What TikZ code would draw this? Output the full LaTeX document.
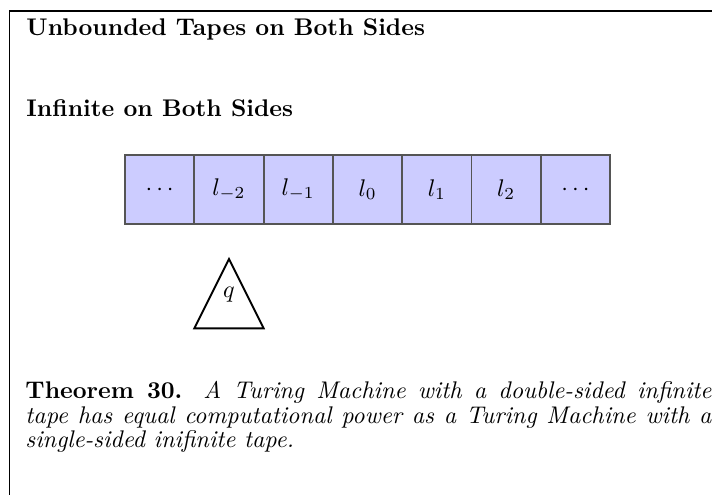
\documentclass[tikz,border=0pt]{standalone}
\usetikzlibrary{positioning}
\definecolor{cellfill}{HTML}{CCCCFF}
\definecolor{celldraw}{HTML}{555555}

\begin{document}
\begin{tikzpicture}[
    x=0.415pt, y=-0.415pt,
    every node/.style={font=\fontsize{10}{10.1}\selectfont},
    cell/.style={rectangle, fill=cellfill, draw=celldraw, line width=0.8pt,
                 minimum size=28.76pt, inner sep=0pt, outer sep=0pt},
  ]

  % Page
  \useasboundingbox (0,0) rectangle (712,495);
  \draw[line width=0.6pt] (712,11) -- (9.3,11) -- (9.3,495);

  % Headings
  \node[anchor=base west, inner sep=0pt, font=\bfseries] (title) at (26,35.7)
    {Unbounded Tapes on Both Sides};
  \node[anchor=base west, inner sep=0pt, font=\bfseries] (subtitle) at (26,116.7)
    {Infinite on Both Sides};

  % Tape
  \node[cell] (c1) at (159.65,189.7) {$\cdots$};
  \node[cell, right=0pt of c1] (c2) {$l_{-2}$};
  \node[cell, right=0pt of c2] (c3) {$l_{-1}$};
  \node[cell, right=0pt of c3] (c4) {$l_0$};
  \node[cell, right=0pt of c4] (c5) {$l_1$};
  \node[cell, right=0pt of c5] (c6) {$l_2$};
  \node[cell, right=0pt of c6] (c7) {$\cdots$};

  % Head under l_{-2}
  \coordinate (apex) at ([yshift=-14.38pt]c2.south);
  \coordinate (baseL) at ([yshift=-43.14pt]c2.south west);
  \coordinate (baseR) at ([yshift=-43.14pt]c2.south east);
  \draw[line width=0.8pt] (apex) -- (baseL) -- (baseR) -- cycle;
  \node (state) at (229,295) {$q$};

  % Theorem
  \node[anchor=north west, inner sep=0pt, text width=284.7pt, align=justify]
    (thm) at (25,381) {%
      \fontsize{10}{10.1}\selectfont
      \textbf{Theorem 30.} \textit{A Turing Machine with a double-sided infinite\linebreak
      tape has equal computational power as a Turing Machine with a\linebreak
      single-sided inifinite tape.}};

\end{tikzpicture}
\end{document}
